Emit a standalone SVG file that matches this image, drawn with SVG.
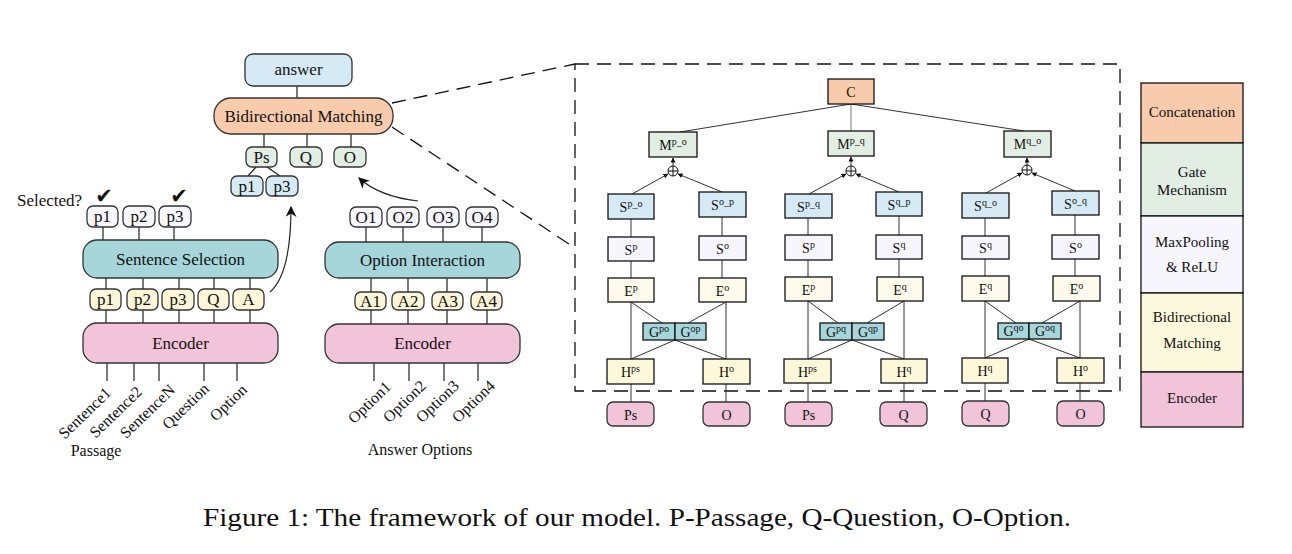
<svg xmlns="http://www.w3.org/2000/svg" width="1292" height="554" viewBox="0 0 1292 554">
<defs>
<style>
text{font-family:"Liberation Serif","Times New Roman",serif;fill:#111}
.lg{font-size:17px}
.md{font-size:16px}
.sm{font-size:14px}
.lgd{font-size:15px}
.c{text-anchor:middle}
.e{text-anchor:end}
.rb{stroke:#333;stroke-width:1.3}
.bx{stroke:#111;stroke-width:1.3}
.ln{stroke:#222;stroke-width:1.2;fill:none}
.thin{stroke:#333;stroke-width:1;fill:none}
.dash{stroke:#111;stroke-width:1.3;fill:none;stroke-dasharray:14 8}
.blue{fill:#d6eaf6}
.sal{fill:#f8cbad}
.grn{fill:#e2ede4}
.lav{fill:#f8f6fd}
.crm{fill:#fdf6d8}
.ecr{fill:#fefbec}
.hcr{fill:#fdf8da}
.teal{fill:#a6d5da}
.pink{fill:#f1c4da}
.sup{font-size:10px}
.chk{font-family:"DejaVu Sans",sans-serif;font-size:21px;text-anchor:middle}
</style>
<marker id="ah" viewBox="0 0 10 10" refX="9" refY="5" markerWidth="11" markerHeight="11" markerUnits="userSpaceOnUse" orient="auto"><path d="M0,0 L10,5 L0,10 L3,5 z" fill="#111"/></marker>
<marker id="as" viewBox="0 0 10 10" refX="9" refY="5" markerWidth="5" markerHeight="5" markerUnits="userSpaceOnUse" orient="auto"><path d="M0,0 L10,5 L0,10 z" fill="#111"/></marker>
</defs>
<rect width="1292" height="554" fill="#fff"/>

<!-- connectors -->
<g id="connectors">
<!-- left panel -->
<line class="ln" x1="297" y1="86" x2="297" y2="98"/>
<line class="ln" x1="264" y1="134" x2="264" y2="147"/>
<line class="ln" x1="307" y1="134" x2="307" y2="147"/>
<line class="ln" x1="351" y1="134" x2="351" y2="147"/>
<line class="ln" x1="256" y1="167" x2="248" y2="176"/>
<line class="ln" x1="267" y1="167" x2="280" y2="176"/>
<path class="ln" d="M270 292 C284 280 291 250 291 207" marker-end="url(#ah)"/>
<path class="ln" d="M418 201 C392 198 372 190 359 178" marker-end="url(#ah)"/>
<line class="ln" x1="103" y1="227" x2="103" y2="240"/>
<line class="ln" x1="139" y1="227" x2="139" y2="240"/>
<line class="ln" x1="174" y1="227" x2="174" y2="240"/>
<g class="ln">
<line x1="106" y1="278" x2="106" y2="289"/><line x1="143" y1="278" x2="143" y2="289"/><line x1="179" y1="278" x2="179" y2="289"/><line x1="214" y1="278" x2="214" y2="289"/><line x1="250" y1="278" x2="250" y2="289"/>
<line x1="106" y1="310" x2="106" y2="323"/><line x1="143" y1="310" x2="143" y2="323"/><line x1="179" y1="310" x2="179" y2="323"/><line x1="214" y1="310" x2="214" y2="323"/><line x1="250" y1="310" x2="250" y2="323"/>
<line x1="107" y1="363" x2="107" y2="381"/><line x1="134" y1="363" x2="134" y2="381"/><line x1="159" y1="363" x2="159" y2="381"/><line x1="204" y1="363" x2="204" y2="381"/><line x1="237" y1="363" x2="237" y2="381"/>
<!-- middle -->
<line x1="366" y1="227" x2="366" y2="242"/><line x1="403" y1="227" x2="403" y2="242"/><line x1="443" y1="227" x2="443" y2="242"/><line x1="482" y1="227" x2="482" y2="242"/>
<line x1="371" y1="278" x2="371" y2="292"/><line x1="408" y1="278" x2="408" y2="292"/><line x1="447" y1="278" x2="447" y2="292"/><line x1="487" y1="278" x2="487" y2="292"/>
<line x1="371" y1="310" x2="371" y2="324"/><line x1="408" y1="310" x2="408" y2="324"/><line x1="447" y1="310" x2="447" y2="324"/><line x1="487" y1="310" x2="487" y2="324"/>
<line x1="374" y1="363" x2="374" y2="381"/><line x1="409" y1="363" x2="409" y2="381"/><line x1="444" y1="363" x2="444" y2="381"/><line x1="478" y1="363" x2="478" y2="381"/>
</g>
<!-- zoom dashes -->
<line class="dash" x1="392" y1="103" x2="575" y2="64"/>
<line class="dash" x1="392" y1="127" x2="575" y2="248"/>
<rect class="dash" x="575" y="64" width="545" height="327"/>
<!-- right panel -->
<line class="thin" x1="851" y1="104" x2="680" y2="132"/>
<line x1="851" y1="104" x2="851" y2="131" stroke="#999" stroke-width="1.3"/>
<line class="thin" x1="851" y1="104" x2="1024" y2="131"/>
<g class="thin">
<!-- col1 -->
<line x1="673" y1="166" x2="673" y2="158" marker-end="url(#as)"/>
<line x1="632" y1="194" x2="668" y2="174" marker-end="url(#as)"/>
<line x1="722" y1="192" x2="678" y2="174" marker-end="url(#as)"/>
<line x1="631" y1="219" x2="631" y2="237"/><line x1="722" y1="217" x2="722" y2="236"/>
<line x1="631" y1="261" x2="631" y2="278"/><line x1="722" y1="260" x2="722" y2="278"/>
<line x1="631" y1="302" x2="631" y2="359"/><line x1="726" y1="302" x2="726" y2="359"/>
<line x1="631" y1="302" x2="662" y2="323"/><line x1="726" y1="302" x2="688" y2="323"/>
<line x1="675" y1="340" x2="631" y2="359"/><line x1="675" y1="340" x2="726" y2="359"/>
<line x1="631" y1="384" x2="631" y2="402"/><line x1="726" y1="384" x2="726" y2="402"/>
<!-- col2 -->
<line x1="851" y1="166" x2="851" y2="157" marker-end="url(#as)"/>
<line x1="809" y1="194" x2="846" y2="174" marker-end="url(#as)"/>
<line x1="899" y1="192" x2="856" y2="174" marker-end="url(#as)"/>
<line x1="808" y1="218" x2="808" y2="235"/><line x1="899" y1="216" x2="899" y2="235"/>
<line x1="808" y1="260" x2="808" y2="277"/><line x1="899" y1="259" x2="899" y2="277"/>
<line x1="808" y1="301" x2="808" y2="359"/><line x1="904" y1="301" x2="904" y2="359"/>
<line x1="808" y1="301" x2="838" y2="323"/><line x1="904" y1="301" x2="867" y2="323"/>
<line x1="852" y1="340" x2="808" y2="359"/><line x1="852" y1="340" x2="904" y2="359"/>
<line x1="808" y1="383" x2="808" y2="402"/><line x1="904" y1="383" x2="904" y2="402"/>
<!-- col3 -->
<line x1="1027" y1="165" x2="1027" y2="158" marker-end="url(#as)"/>
<line x1="986" y1="193" x2="1022" y2="173" marker-end="url(#as)"/>
<line x1="1075" y1="191" x2="1032" y2="173" marker-end="url(#as)"/>
<line x1="985" y1="218" x2="985" y2="236"/><line x1="1075" y1="215" x2="1075" y2="235"/>
<line x1="985" y1="259" x2="985" y2="276"/><line x1="1075" y1="259" x2="1075" y2="276"/>
<line x1="985" y1="301" x2="985" y2="358"/><line x1="1080" y1="301" x2="1080" y2="358"/>
<line x1="985" y1="301" x2="1016" y2="323"/><line x1="1080" y1="301" x2="1042" y2="323"/>
<line x1="1029" y1="339" x2="985" y2="358"/><line x1="1029" y1="339" x2="1080" y2="358"/>
<line x1="985" y1="383" x2="985" y2="401"/><line x1="1080" y1="383" x2="1080" y2="401"/>
</g>
</g>

<!-- left panel nodes -->
<g id="answer"><rect class="rb blue" x="245" y="54" width="107" height="32" rx="8"/><text class="lg c" x="298.5" y="75">answer</text></g>
<g id="bimatch"><rect class="rb sal" x="214" y="98" width="179" height="36" rx="17"/><text class="lg c" x="303.5" y="122">Bidirectional Matching</text></g>
<g id="ps"><rect class="rb grn" x="246" y="147" width="31" height="20" rx="6"/><text class="lg c" x="261.5" y="163">Ps</text></g>
<g id="q"><rect class="rb grn" x="290" y="147" width="32" height="20" rx="6"/><text class="lg c" x="306" y="163">Q</text></g>
<g id="o"><rect class="rb grn" x="334" y="147" width="32" height="20" rx="6"/><text class="lg c" x="350" y="163">O</text></g>
<g id="sel-p1"><rect class="rb blue" x="231" y="176" width="32" height="20" rx="6"/><text class="lg c" x="247" y="192">p1</text></g>
<g id="sel-p3"><rect class="rb blue" x="266" y="176" width="32" height="20" rx="6"/><text class="lg c" x="282" y="192">p3</text></g>

<g id="selected"><text class="lg" x="17" y="206">Selected?</text>
<text class="chk" x="104" y="203">✔</text><text class="chk" x="179" y="203">✔</text></g>
<g id="out-p1"><rect class="rb lav" x="87" y="206" width="31" height="21" rx="6"/><text class="lg c" x="102.5" y="222">p1</text></g>
<g id="out-p2"><rect class="rb lav" x="123" y="206" width="32" height="21" rx="6"/><text class="lg c" x="139" y="222">p2</text></g>
<g id="out-p3"><rect class="rb lav" x="159" y="206" width="32" height="21" rx="6"/><text class="lg c" x="175" y="222">p3</text></g>
<g id="sentsel"><rect class="rb teal" x="83" y="240" width="195" height="38" rx="14"/><text class="lg c" x="180.5" y="265">Sentence Selection</text></g>
<g id="enc-p1"><rect class="rb crm" x="90" y="289" width="31" height="21" rx="6"/><text class="lg c" x="105.5" y="305">p1</text></g>
<g id="enc-p2"><rect class="rb crm" x="127" y="289" width="31" height="21" rx="6"/><text class="lg c" x="142.5" y="305">p2</text></g>
<g id="enc-p3"><rect class="rb crm" x="162" y="289" width="32" height="21" rx="6"/><text class="lg c" x="178" y="305">p3</text></g>
<g id="enc-q"><rect class="rb crm" x="198" y="289" width="31" height="21" rx="6"/><text class="lg c" x="213.5" y="305">Q</text></g>
<g id="enc-a"><rect class="rb crm" x="233" y="289" width="31" height="21" rx="6"/><text class="lg c" x="248.5" y="305">A</text></g>
<g id="encoder1"><rect class="rb pink" x="83" y="323" width="195" height="40" rx="14"/><text class="lg c" x="180.5" y="349">Encoder</text></g>
<g id="passage-inputs">
<text class="md e" transform="translate(112,394) rotate(-44)">Sentence1</text>
<text class="md e" transform="translate(143,393) rotate(-44)">Sentence2</text>
<text class="md e" transform="translate(176,391) rotate(-44)">SentenceN</text>
<text class="md e" transform="translate(210,390) rotate(-44)">Question</text>
<text class="md e" transform="translate(248,391) rotate(-44)">Option</text>
<text class="md c" x="96" y="456">Passage</text>
</g>

<!-- middle panel -->
<g id="o1"><rect class="rb lav" x="350" y="207" width="32" height="20" rx="6"/><text class="lg c" x="366" y="223">O1</text></g>
<g id="o2"><rect class="rb lav" x="387" y="207" width="32" height="20" rx="6"/><text class="lg c" x="403" y="223">O2</text></g>
<g id="o3"><rect class="rb lav" x="427" y="207" width="32" height="20" rx="6"/><text class="lg c" x="443" y="223">O3</text></g>
<g id="o4"><rect class="rb lav" x="466" y="207" width="32" height="20" rx="6"/><text class="lg c" x="482" y="223">O4</text></g>
<g id="optint"><rect class="rb teal" x="325" y="242" width="195" height="36" rx="14"/><text class="lg c" x="422.5" y="266">Option Interaction</text></g>
<g id="a1"><rect class="rb crm" x="355" y="292" width="31" height="18" rx="6"/><text class="lg c" x="370.5" y="307">A1</text></g>
<g id="a2"><rect class="rb crm" x="392" y="292" width="32" height="18" rx="6"/><text class="lg c" x="408" y="307">A2</text></g>
<g id="a3"><rect class="rb crm" x="432" y="292" width="31" height="18" rx="6"/><text class="lg c" x="447.5" y="307">A3</text></g>
<g id="a4"><rect class="rb crm" x="471" y="292" width="31" height="18" rx="6"/><text class="lg c" x="486.5" y="307">A4</text></g>
<g id="encoder2"><rect class="rb pink" x="325" y="324" width="195" height="39" rx="14"/><text class="lg c" x="422.5" y="349">Encoder</text></g>
<g id="option-inputs">
<text class="md e" transform="translate(392,388) rotate(-44)">Option1</text>
<text class="md e" transform="translate(427,387) rotate(-44)">Option2</text>
<text class="md e" transform="translate(460,387) rotate(-44)">Option3</text>
<text class="md e" transform="translate(496,387) rotate(-44)">Option4</text>
<text class="md c" x="420" y="455">Answer Options</text>
</g>

<!-- right panel -->
<g id="C"><rect class="bx sal" x="828" y="79" width="46" height="25"/><text class="sm c" x="851" y="97">C</text></g>

<g id="col-po">
<g id="m-po"><rect class="bx grn" x="649" y="132" width="48" height="25"/><text class="sm c" x="673" y="150">M<tspan class="sup" dy="-5">p_o</tspan></text></g>
<g id="op-po"><circle cx="673" cy="171" r="5" fill="#fff" stroke="#111" stroke-width="1"/><path d="M668 171 H678 M673 166 V176" stroke="#111" stroke-width="1"/></g>
<g id="s-po"><rect class="bx blue" x="608" y="194" width="46" height="25"/><text class="sm c" x="631" y="212">S<tspan class="sup" dy="-5">p_o</tspan></text></g>
<g id="s-op"><rect class="bx blue" x="699" y="192" width="47" height="25"/><text class="sm c" x="722.5" y="210">S<tspan class="sup" dy="-5">o_p</tspan></text></g>
<g id="sp-1"><rect class="bx lav" x="608" y="237" width="46" height="24"/><text class="sm c" x="631" y="255">S<tspan class="sup" dy="-5">p</tspan></text></g>
<g id="so-1"><rect class="bx lav" x="699" y="236" width="47" height="24"/><text class="sm c" x="722.5" y="254">S<tspan class="sup" dy="-5">o</tspan></text></g>
<g id="ep-1"><rect class="bx ecr" x="608" y="278" width="46" height="24"/><text class="sm c" x="631" y="296">E<tspan class="sup" dy="-5">p</tspan></text></g>
<g id="eo-1"><rect class="bx ecr" x="699" y="278" width="47" height="24"/><text class="sm c" x="722.5" y="296">E<tspan class="sup" dy="-5">o</tspan></text></g>
<g id="g-po"><rect class="bx teal" x="643" y="323" width="32" height="17"/><text class="sm c" x="659" y="337">G<tspan class="sup" dy="-5">po</tspan></text></g>
<g id="g-op"><rect class="bx teal" x="675" y="323" width="31" height="17"/><text class="sm c" x="690.5" y="337">G<tspan class="sup" dy="-5">op</tspan></text></g>
<g id="hps-1"><rect class="bx hcr" x="607" y="359" width="47" height="25"/><text class="sm c" x="630.5" y="377">H<tspan class="sup" dy="-5">ps</tspan></text></g>
<g id="ho-1"><rect class="bx hcr" x="703" y="359" width="47" height="25"/><text class="sm c" x="726.5" y="377">H<tspan class="sup" dy="-5">o</tspan></text></g>
<g id="in-ps-1"><rect class="rb pink" x="607" y="402" width="47" height="24" rx="6"/><text class="sm c" x="630.5" y="420">Ps</text></g>
<g id="in-o-1"><rect class="rb pink" x="703" y="402" width="47" height="24" rx="6"/><text class="sm c" x="726.5" y="420">O</text></g>
</g>

<g id="col-pq">
<g id="m-pq"><rect class="bx grn" x="828" y="131" width="46" height="25"/><text class="sm c" x="851" y="149">M<tspan class="sup" dy="-5">p_q</tspan></text></g>
<g id="op-pq"><circle cx="851" cy="171" r="5" fill="#fff" stroke="#111" stroke-width="1"/><path d="M846 171 H856 M851 166 V176" stroke="#111" stroke-width="1"/></g>
<g id="s-pq"><rect class="bx blue" x="785" y="194" width="47" height="24"/><text class="sm c" x="808.5" y="212">S<tspan class="sup" dy="-5">p_q</tspan></text></g>
<g id="s-qp"><rect class="bx blue" x="876" y="192" width="46" height="24"/><text class="sm c" x="899" y="210">S<tspan class="sup" dy="-5">q_p</tspan></text></g>
<g id="sp-2"><rect class="bx lav" x="785" y="235" width="47" height="25"/><text class="sm c" x="808.5" y="253">S<tspan class="sup" dy="-5">p</tspan></text></g>
<g id="sq-2"><rect class="bx lav" x="876" y="235" width="46" height="24"/><text class="sm c" x="899" y="253">S<tspan class="sup" dy="-5">q</tspan></text></g>
<g id="ep-2"><rect class="bx ecr" x="785" y="277" width="47" height="24"/><text class="sm c" x="808.5" y="295">E<tspan class="sup" dy="-5">p</tspan></text></g>
<g id="eq-2"><rect class="bx ecr" x="877" y="277" width="46" height="24"/><text class="sm c" x="900" y="295">E<tspan class="sup" dy="-5">q</tspan></text></g>
<g id="g-pq"><rect class="bx teal" x="820" y="323" width="32" height="17"/><text class="sm c" x="836" y="337">G<tspan class="sup" dy="-5">pq</tspan></text></g>
<g id="g-qp"><rect class="bx teal" x="852" y="323" width="32" height="17"/><text class="sm c" x="868" y="337">G<tspan class="sup" dy="-5">qp</tspan></text></g>
<g id="hps-2"><rect class="bx hcr" x="784" y="359" width="47" height="24"/><text class="sm c" x="807.5" y="377">H<tspan class="sup" dy="-5">ps</tspan></text></g>
<g id="hq-2"><rect class="bx hcr" x="881" y="359" width="46" height="24"/><text class="sm c" x="904" y="377">H<tspan class="sup" dy="-5">q</tspan></text></g>
<g id="in-ps-2"><rect class="rb pink" x="785" y="402" width="47" height="24" rx="6"/><text class="sm c" x="808.5" y="420">Ps</text></g>
<g id="in-q-2"><rect class="rb pink" x="880" y="402" width="47" height="24" rx="6"/><text class="sm c" x="903.5" y="420">Q</text></g>
</g>

<g id="col-qo">
<g id="m-qo"><rect class="bx grn" x="1004" y="131" width="47" height="26"/><text class="sm c" x="1027.5" y="149">M<tspan class="sup" dy="-5">q_o</tspan></text></g>
<g id="op-qo"><circle cx="1027" cy="170" r="5" fill="#fff" stroke="#111" stroke-width="1"/><path d="M1022 170 H1032 M1027 165 V175" stroke="#111" stroke-width="1"/></g>
<g id="s-qo"><rect class="bx blue" x="962" y="193" width="47" height="25"/><text class="sm c" x="985.5" y="211">S<tspan class="sup" dy="-5">q_o</tspan></text></g>
<g id="s-oq"><rect class="bx blue" x="1052" y="191" width="47" height="24"/><text class="sm c" x="1075.5" y="209">S<tspan class="sup" dy="-5">o_q</tspan></text></g>
<g id="sq-3"><rect class="bx lav" x="962" y="236" width="47" height="23"/><text class="sm c" x="985.5" y="253">S<tspan class="sup" dy="-5">q</tspan></text></g>
<g id="so-3"><rect class="bx lav" x="1052" y="235" width="47" height="24"/><text class="sm c" x="1075.5" y="253">S<tspan class="sup" dy="-5">o</tspan></text></g>
<g id="eq-3"><rect class="bx ecr" x="962" y="276" width="47" height="25"/><text class="sm c" x="985.5" y="294">E<tspan class="sup" dy="-5">q</tspan></text></g>
<g id="eo-3"><rect class="bx ecr" x="1053" y="276" width="47" height="25"/><text class="sm c" x="1076.5" y="294">E<tspan class="sup" dy="-5">o</tspan></text></g>
<g id="g-qo"><rect class="bx teal" x="998" y="323" width="31" height="16"/><text class="sm c" x="1013.5" y="336">G<tspan class="sup" dy="-5">qo</tspan></text></g>
<g id="g-oq"><rect class="bx teal" x="1029" y="323" width="32" height="16"/><text class="sm c" x="1045" y="336">G<tspan class="sup" dy="-5">oq</tspan></text></g>
<g id="hq-3"><rect class="bx hcr" x="962" y="358" width="46" height="25"/><text class="sm c" x="985" y="376">H<tspan class="sup" dy="-5">q</tspan></text></g>
<g id="ho-3"><rect class="bx hcr" x="1057" y="358" width="47" height="25"/><text class="sm c" x="1080.5" y="376">H<tspan class="sup" dy="-5">o</tspan></text></g>
<g id="in-q-3"><rect class="rb pink" x="962" y="401" width="47" height="25" rx="6"/><text class="sm c" x="985.5" y="419">Q</text></g>
<g id="in-o-3"><rect class="rb pink" x="1057" y="401" width="47" height="25" rx="6"/><text class="sm c" x="1080.5" y="419">O</text></g>
</g>

<!-- legend -->
<g id="legend">
<rect class="bx sal" x="1141" y="83" width="102" height="60"/>
<text class="lgd c" x="1192" y="117">Concatenation</text>
<rect class="bx grn" x="1141" y="143" width="102" height="73"/>
<text class="lgd c" x="1192" y="177">Gate</text><text class="lgd c" x="1192" y="195">Mechanism</text>
<rect class="bx lav" x="1141" y="216" width="102" height="77"/>
<text class="lgd c" x="1192" y="247">MaxPooling</text><text class="lgd c" x="1192" y="272">&amp; ReLU</text>
<rect class="bx" x="1141" y="293" width="102" height="79" fill="#fdf9dc"/>
<text class="lgd c" x="1192" y="322">Bidirectional</text><text class="lgd c" x="1192" y="348">Matching</text>
<rect class="bx pink" x="1141" y="372" width="102" height="55"/>
<text class="lgd c" x="1192" y="403">Encoder</text>
</g>

<text id="caption" x="203" y="526" font-size="26" textLength="868" lengthAdjust="spacingAndGlyphs">Figure 1: The framework of our model. P-Passage, Q-Question, O-Option.</text>
</svg>
